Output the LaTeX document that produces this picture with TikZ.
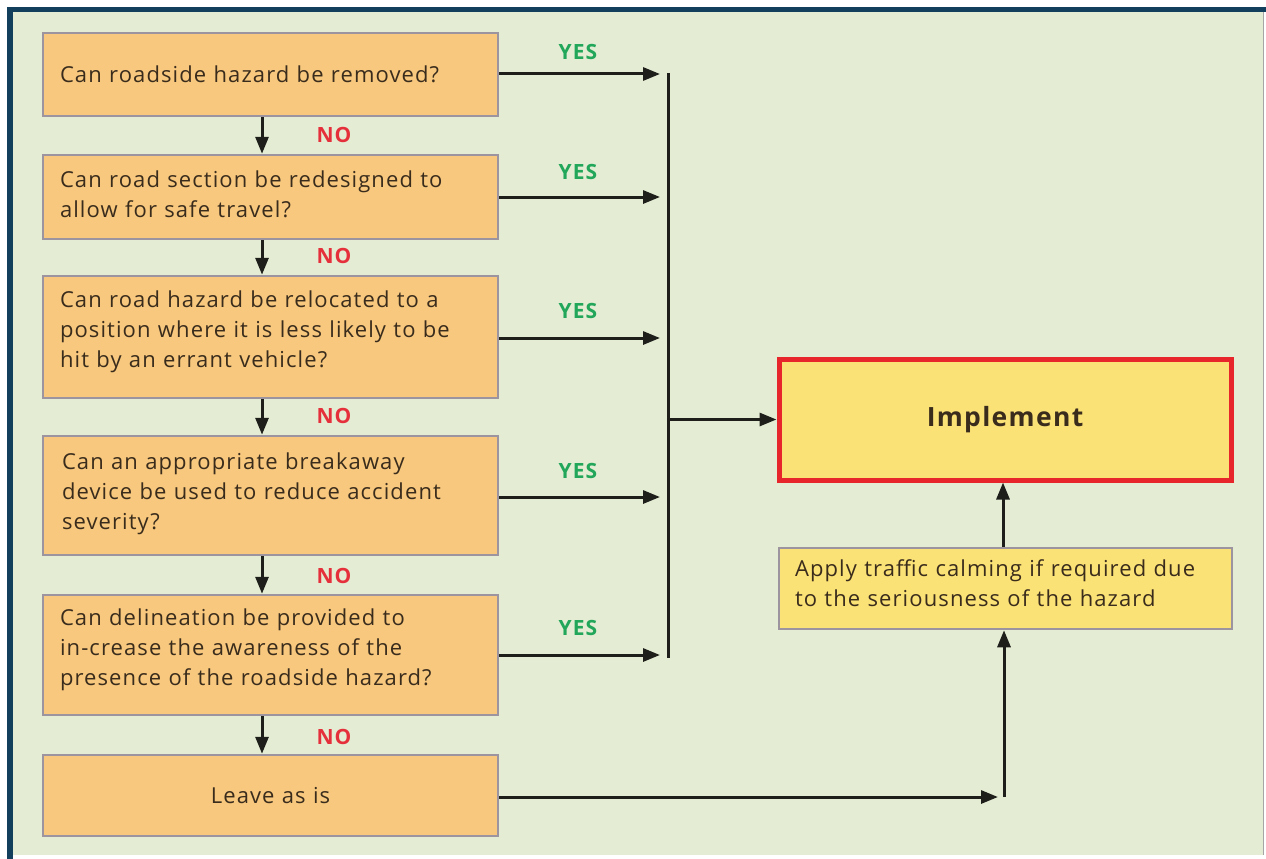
\documentclass[tikz,border=0pt]{standalone}
\usepackage{fontspec}
\setmainfont{Open Sans}[LetterSpace=5]
\usetikzlibrary{arrows.meta}

\definecolor{panelbg}{HTML}{E4EDD4}
\definecolor{framecol}{HTML}{123F5C}
\definecolor{qfill}{HTML}{F7C87E}
\definecolor{qline}{HTML}{9C95A0}
\definecolor{txt}{HTML}{3A2C1C}
\definecolor{yescol}{HTML}{22A65A}
\definecolor{nocol}{HTML}{E5303C}
\definecolor{implfill}{HTML}{FBE276}
\definecolor{implline}{HTML}{E6262A}
\definecolor{arrowcol}{HTML}{1E1E1A}

\tikzset{
  qbox/.style={rectangle, draw=qline, line width=2.5pt, fill=qfill,
    minimum width=455pt, text width=421pt, align=left, inner sep=0pt,
    text=txt, font=\fontsize{22}{30}\selectfont},
  liftup/.style={execute at end node={\par\vspace*{#1}}},
  implbox/.style={rectangle, draw=implline, line width=5pt, fill=implfill,
    minimum width=452pt, minimum height=121pt, inner sep=0pt,
    text=txt, font=\bfseries\fontsize{26.5}{30}\selectfont},
  applybox/.style={rectangle, draw=qline, line width=2.5pt, fill=implfill,
    minimum width=453pt, minimum height=81pt, text width=421pt, align=left,
    inner sep=0pt, text=txt, font=\fontsize{22}{30}\selectfont},
  yeslbl/.style={text=yescol, font=\bfseries\fontsize{21}{22}\selectfont},
  nolbl/.style={text=nocol, font=\bfseries\fontsize{21}{22}\selectfont},
  flow/.style={draw=arrowcol, line width=3pt,
    -{Triangle[length=17pt,width=13pt]}},
  busline/.style={draw=arrowcol, line width=3pt},
}

\begin{document}
\begin{tikzpicture}[x=1pt,y=-1pt]
\useasboundingbox (0,0) rectangle (1266,859);
% panel and frame
\fill[white] (0,0) rectangle (1266,859);
\fill[panelbg] (10,10) rectangle (1264,855);
\fill[framecol] (7,7) rectangle (1266,12.5);
\fill[framecol] (7,7) rectangle (12.5,859);
\draw[black!35, line width=1pt] (1263.5,12) -- (1263.5,855);

% question column
\node[qbox, minimum height=83pt] (q1) at (270.5,74.5)
  {Can roadside hazard be removed?};
\node[qbox, minimum height=84pt, liftup=5pt] (q2) at (270.5,197)
  {Can road section be redesigned to\\allow for safe travel?};
\node[qbox, minimum height=122pt, liftup=10pt] (q3) at (270.5,337)
  {Can road hazard be relocated to a\\position where it is less likely to be\\hit by an errant vehicle?};
\node[qbox, minimum height=119pt, liftup=3pt] (q4) at (270.5,495.5)
  {\hspace*{2pt}Can an appropriate breakaway\\\hspace*{2pt}device be used to reduce accident\\\hspace*{2pt}severity?};
\node[qbox, minimum height=120pt, liftup=11pt] (q5) at (270.5,655)
  {Can delineation be provided to\\in-crease the awareness of the\\presence of the roadside hazard?};
\node[qbox, minimum height=81pt, align=center] (q6) at (270.5,795.5)
  {Leave as is};

% outcome boxes
\node[implbox] (impl) at (1005,419.5) {Implement};
\node[applybox, liftup=11pt] (apply) at (1005.5,588.5)
  {Apply traffic calming if required due\\to the seriousness of the hazard};

% helper coordinates
\coordinate (dx) at (262,0);
\coordinate (yesend) at (660,0);
\coordinate (bustop) at (668,73);
\coordinate (busbot) at (668,658);
\coordinate (busmid) at (668,419.5);
\coordinate (leaveend) at (998,0);
\coordinate (turn) at (1004,797);
\coordinate (upx) at (1003,0);

% NO branches
\foreach \a/\b in {q1/q2,q2/q3,q3/q4,q4/q5,q5/q6}
  \draw[flow] (\a.south -| dx) -- (\b.north -| dx);
\node[nolbl] (no1) at (334,135) {NO};
\node[nolbl] (no2) at (334,256) {NO};
\node[nolbl] (no3) at (334,416) {NO};
\node[nolbl] (no4) at (334,576) {NO};
\node[nolbl] (no5) at (334,737) {NO};

% YES branches
\draw[flow] (q1.east |- 0,74) -- (yesend |- 0,74);
\draw[flow] (q2.east) -- (q2.east -| yesend);
\draw[flow] (q3.east |- 0,338) -- (yesend |- 0,338);
\draw[flow] (q4.east |- 0,497) -- (yesend |- 0,497);
\draw[flow] (q5.east) -- (q5.east -| yesend);
\node[yeslbl] (yes1) at (578,52) {YES};
\node[yeslbl] (yes2) at (578,172) {YES};
\node[yeslbl] (yes3) at (578,311) {YES};
\node[yeslbl] (yes4) at (578,471) {YES};
\node[yeslbl] (yes5) at (578,628) {YES};

% collector line into the implement box
\draw[busline] (bustop) -- (busbot);
\draw[flow] (busmid) -- (impl.west);

% leave-as-is path and traffic calming
\draw[flow] (q6.east |- turn) -- (leaveend |- turn);
\draw[flow] (turn) -- (turn |- apply.south);
\draw[flow] (apply.north -| upx) -- (impl.south -| upx);
\end{tikzpicture}
\end{document}
